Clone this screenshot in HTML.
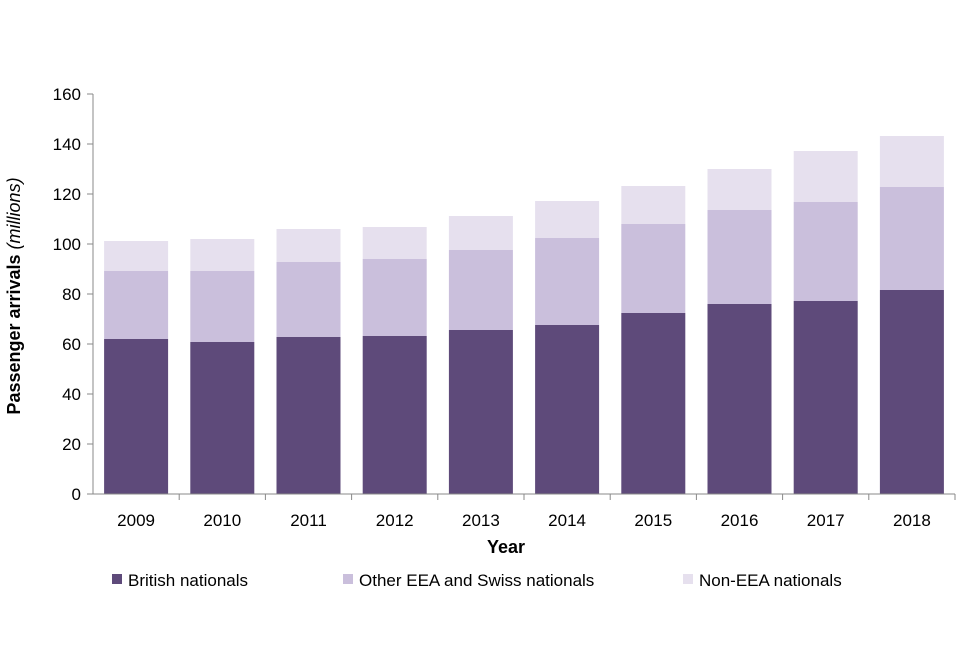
<!DOCTYPE html>
<html><head><meta charset="utf-8"><style>
body{margin:0;background:#fff;font-family:"Liberation Sans",Arial,sans-serif;}
svg text{font-family:"Liberation Sans",Arial,sans-serif;fill:#000;}
</style></head><body>
<svg id="chart" width="960" height="640">
<g id="bars"></g>
<g id="axes"></g>
<text x="0" y="0" transform="translate(20,296) rotate(-90)" text-anchor="middle" font-size="18" font-weight="bold">Passenger arrivals <tspan font-style="italic" font-weight="normal">(millions)</tspan></text>
<text x="506" y="553" text-anchor="middle" font-size="18" font-weight="bold">Year</text>
<g>
<g><rect x="112" y="574" width="10" height="10" fill="#5e4a7a"/><text x="128" y="586" font-size="17">British nationals</text></g>
<g><rect x="343" y="574" width="10" height="10" fill="#cabfdc"/><text x="359" y="586" font-size="17">Other EEA and Swiss nationals</text></g>
<g><rect x="683" y="574" width="10" height="10" fill="#e6e0ee"/><text x="699" y="586" font-size="17">Non-EEA nationals</text></g>
</g>
</svg>
<script>
const years=["2009","2010","2011","2012","2013","2014","2015","2016","2017","2018"];
const british=[62,60.8,62.8,63.2,65.6,67.6,72.4,76,77.2,81.6];
const otherEEA=[27.2,28.4,30,30.8,32,34.8,35.6,37.6,39.6,41.2];
const nonEEA=[12,12.8,13.2,12.8,13.6,14.8,15.2,16.4,20.4,20.4];
const yTicks=[0,20,40,60,80,100,120,140,160];
const NS="http://www.w3.org/2000/svg";
const x0=93,x1=955,yBase=494,yTop=94,yMax=160;
const band=(x1-x0)/years.length,bw=64;
const y=v=>yBase-(v/yMax)*(yBase-yTop);
const xc=i=>x0+band*(i+0.5);
const bars=document.getElementById('bars'),axes=document.getElementById('axes');
function mk(t,a,p){const e=document.createElementNS(NS,t);for(const k in a)e.setAttribute(k,a[k]);p.appendChild(e);return e;}
const series=[[british,"#5e4a7a","british"],[otherEEA,"#cabfdc","other-eea"],[nonEEA,"#e6e0ee","non-eea"]];
years.forEach((yr,i)=>{let base=0;series.forEach(([arr,c,n])=>{const v=arr[i];
const r=mk('rect',{x:xc(i)-bw/2,y:y(base+v),width:bw,height:y(base)-y(base+v),fill:c},bars);


base+=v;});
const t=mk('text',{x:xc(i),y:526,'text-anchor':'middle','font-size':17},axes);t.textContent=yr;


mk('line',{x1:x0+band*(i+1),x2:x0+band*(i+1),y1:yBase,y2:yBase+6,stroke:'#888'},axes);
});
mk('line',{x1:x0,x2:x0,y1:yTop,y2:yBase,stroke:'#888'},axes);
mk('line',{x1:x0,x2:x1,y1:yBase,y2:yBase,stroke:'#888'},axes);
yTicks.forEach(v=>{mk('line',{x1:x0-6,x2:x0,y1:y(v),y2:y(v),stroke:'#888'},axes);
const t=mk('text',{x:x0-12,y:y(v)+6,'text-anchor':'end','font-size':17},axes);t.textContent=v;

});
</script>
</body></html>
